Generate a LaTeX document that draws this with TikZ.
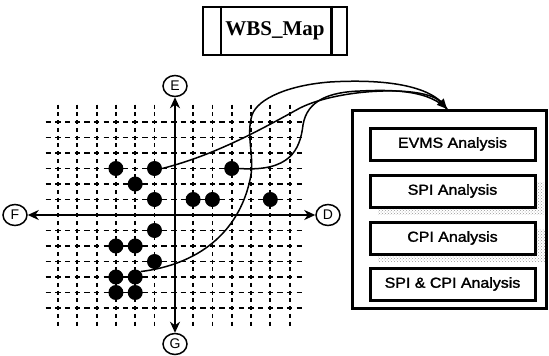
\documentclass[tikz,border=0pt]{standalone}
\usepackage{fontspec}
\setmainfont{Liberation Sans}
\newfontfamily\boxfont[FakeStretch=1.1,FakeBold=1.6]{Liberation Sans}
\newfontfamily\titlefont{Liberation Serif}
\usetikzlibrary{arrows.meta,shapes.geometric,patterns}
\begin{document}
\begin{tikzpicture}[x=1pt,y=-1pt,
  hline/.style={line width=1.8pt,dash pattern=on 5.5pt off 4.15pt},
  vline/.style={line width=1.8pt,dash pattern=on 4pt off 3.75pt},
  dot/.style={circle,fill=black,inner sep=0pt,minimum size=15pt},
  axislabel/.style={ellipse,draw,line width=1.5pt,minimum width=24pt,minimum height=21pt,inner sep=0pt,font=\fontsize{14}{14}\selectfont},
  axisline/.style={line width=2pt,{Stealth[length=11pt,width=10pt,inset=3.5pt]}-{Stealth[length=11pt,width=10pt,inset=3.5pt]}},
  link/.style={line width=1.5pt},
  outerbox/.style={draw,line width=3pt,inner sep=0pt},
  abox/.style={draw,line width=3pt,fill=white,minimum width=165pt,minimum height=32pt,inner sep=0pt,font=\boxfont\fontsize{14.5}{14.5}\selectfont},
  shadowbox/.style={pattern=crosshatch dots,pattern color=gray!80},
  titlebox/.style={draw,line width=2.5pt,minimum width=144pt,minimum height=48pt,inner sep=0pt,font=\titlefont\bfseries\fontsize{21}{21}\selectfont}
]
\useasboundingbox (0,0) rectangle (549,356);

% title
\node[titlebox] (title) at (275,31) {WBS\_Map};
\draw[line width=2.5pt] ([xshift=19pt]title.north west) -- ([xshift=19pt]title.south west);
\draw[line width=2.5pt] ([xshift=-17pt]title.north east) -- ([xshift=-17pt]title.south east);

% grid
\foreach \j in {0,...,12}{
  \ifnum\j=6\relax\else
    \draw[hline] (45.6,{122+15.5*\j}) -- (302,{122+15.5*\j});
  \fi}
\foreach \i in {0,...,12}{
  \ifnum\i=6\relax\else
    \draw[vline] ({58+19.3*\i},104.5) -- ({58+19.3*\i},325.5);
  \fi}

% dots
\foreach \i/\j in {3/3,5/3,9/3,4/4,5/5,7/5,8/5,11/5,5/7,3/8,4/8,5/9,3/10,4/10,3/11,4/11}
  \node[dot] (d\i-\j) at ({58+19.3*\i},{122+15.5*\j}) {};

% axes
\node[axislabel] (E) at (175,86) {E};
\node[axislabel] (G) at (175,344) {G};
\node[axislabel] (F) at (15,215) {F};
\node[axislabel] (D) at (328,215) {D};
\draw[axisline] (F) -- (D);
\draw[axisline] (E) -- (G);

% box
\node[outerbox,minimum width=194pt,minimum height=198pt] (box) at (449,209) {};
\fill[shadowbox] (378,182) rectangle (544,214);
\fill[shadowbox] (378,229) rectangle (545,261);
\node[abox] (evms) at (452.5,144) {EVMS Analysis};
\node[abox] (spi) at (452.5,191) {SPI Analysis};
\node[abox] (cpi) at (452.5,238) {CPI Analysis};
\node[abox] (both) at (452.5,284) {SPI \& CPI Analysis};

% links
\coordinate (tip) at (447,109);
\draw[link] (d9-3.east) .. controls (290,172) and (300,150) .. (303,125)
   .. controls (307,100) and (330,92) .. (360,91) .. controls (400,89) and (430,92) .. (tip);
\draw[link] (d4-10.north east) .. controls (195,265) and (240,235) .. (251,175)
   .. controls (254,155) and (246,135) .. (252,115)
   .. controls (258,98) and (290,85) .. (330,82)
   .. controls (380,79) and (432,84) .. (tip);
\draw[link,-{Triangle[length=10pt,width=9pt]}] (d5-3.east) .. controls (215,155) and (260,130) .. (300,108)
   .. controls (340,88) and (425,85) .. (tip);
\end{tikzpicture}
\end{document}
